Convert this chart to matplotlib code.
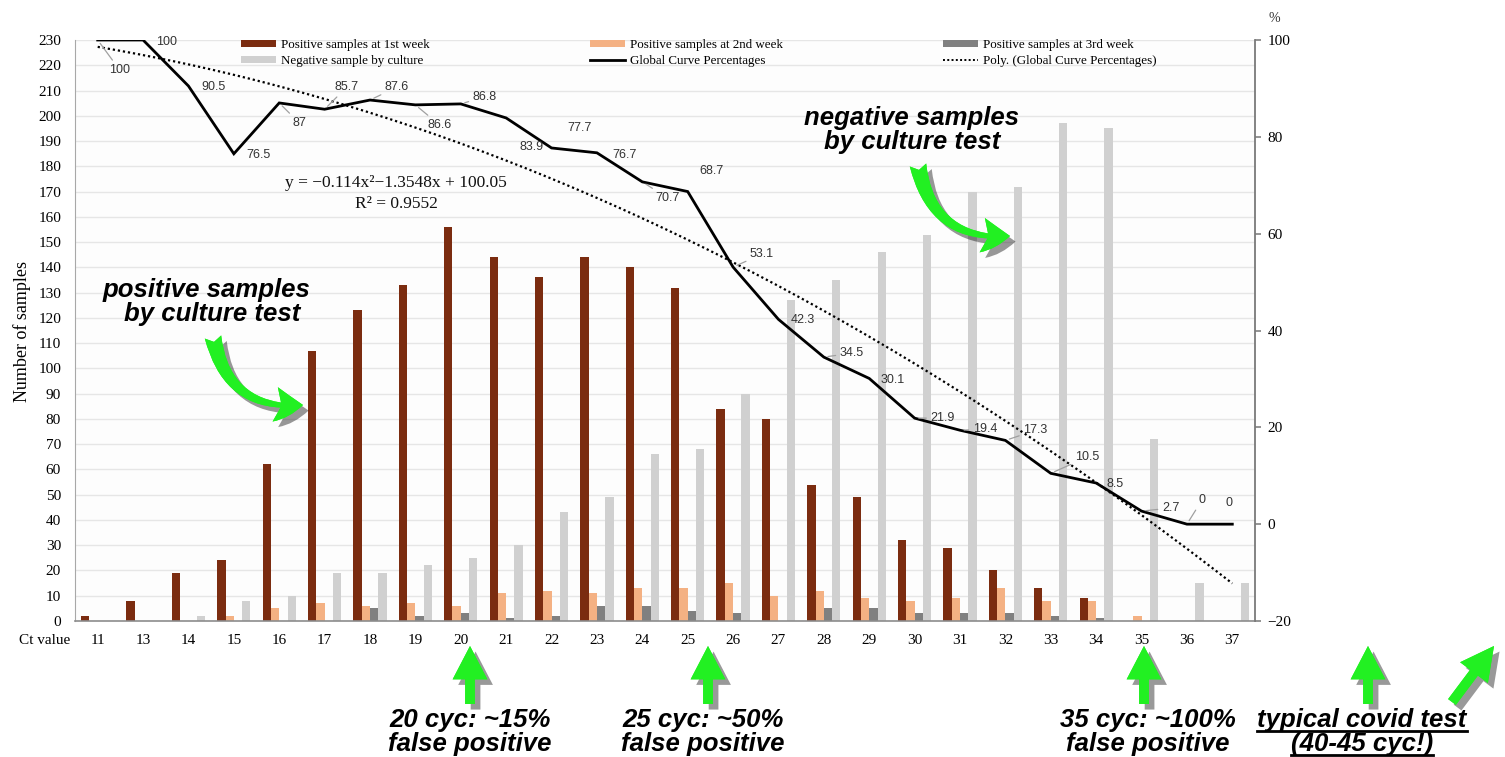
import numpy as np
import matplotlib
matplotlib.use("Agg")
import matplotlib.pyplot as plt
from matplotlib.patches import FancyArrowPatch, Patch
from matplotlib.lines import Line2D
import matplotlib.patheffects as pe

# ---- data -------------------------------------------------------------
ct_values = ["11", "13", "14", "15", "16", "17", "18", "19", "20", "21", "22",
             "23", "24", "25", "26", "27", "28", "29", "30", "31", "32", "33",
             "34", "35", "36", "37"]
pos_week1 = [2, 8, 19, 24, 62, 107, 123, 133, 156, 144, 136, 144, 140, 132,
             84, 80, 54, 49, 32, 29, 20, 13, 9, 0, 0, 0]
pos_week2 = [0, 0, 0, 2, 5, 7, 6, 7, 6, 11, 12, 11, 13, 13, 15, 10, 12, 9, 8,
             9, 13, 8, 8, 2, 0, 0]
pos_week3 = [0, 0, 0, 0, 0, 0, 5, 2, 3, 1, 2, 6, 6, 4, 3, 0, 5, 5, 3, 3, 3, 2,
             1, 0, 0, 0]
negative = [0, 0, 2, 8, 10, 19, 19, 22, 25, 30, 43, 49, 66, 68, 90, 127, 135,
            146, 153, 170, 172, 197, 195, 72, 15, 15]
global_pct = [100, 100, 90.5, 76.5, 87, 85.7, 87.6, 86.6, 86.8, 83.9, 77.7,
              76.7, 70.7, 68.7, 53.1, 42.3, 34.5, 30.1, 21.9, 19.4, 17.3, 10.5,
              8.5, 2.7, 0, 0]
pct_labels = ["100", "100", "90.5", "76.5", "87", "85.7", "87.6", "86.6",
              "86.8", "83.9", "77.7", "76.7", "70.7", "68.7", "53.1", "42.3",
              "34.5", "30.1", "21.9", "19.4", "17.3", "10.5", "8.5", "2.7",
              "0", "0"]
poly_coef = [-0.114, -1.3548, 100.05]
r_squared = 0.9552
left_ticks = list(range(0, 231, 10))
right_ticks = [-20, 0, 20, 40, 60, 80, 100]

# ---- label placement (pixel offsets from each point) and leader lines --
label_offsets = [(22, -30), (23, -2), (25, -1), (25, -1), (20, -20), (22, 22),
                 (27, 13), (24, -20), (24, 7), (25, -29), (28, 20), (28, -2),
                 (25, -16), (24, 21), (29, 13), (24, -1), (28, 4), (23, -2),
                 (28, 0), (25, 1), (30, 10), (36, 16), (19, -1), (29, 3),
                 (15, 24), (-3, 21)]
leader = {0, 4, 5, 6, 7, 8, 12, 14, 16, 18, 19, 20, 21, 23, 24}

# ---- colours -----------------------------------------------------------
c_week1 = "#7B2C10"
c_week2 = "#F4B183"
c_week3 = "#808080"
c_neg = "#D0D0D0"
green = "#22F022"

SERIF = "Liberation Serif"
SANS = "Liberation Sans"

W, H = 1505, 757
fig = plt.figure(figsize=(W / 100, H / 100), dpi=100)
fig.patch.set_facecolor("white")


def fp(x, y):
    """pixel position (from top-left) -> figure fraction"""
    return (x / W, 1 - y / H)


ax = fig.add_axes([75 / W, 1 - 621 / H, (1255 - 75) / W, (621 - 40) / H])
ax.set_facecolor("#FDFDFD")

x = np.arange(len(ct_values))
bw = 0.183
ax.bar(x - 1.5 * bw, pos_week1, bw, color=c_week1, zorder=2)
ax.bar(x - 0.5 * bw, pos_week2, bw, color=c_week2, zorder=2)
ax.bar(x + 0.5 * bw, pos_week3, bw, color=c_week3, zorder=2)
ax.bar(x + 1.5 * bw, negative, bw, color=c_neg, zorder=2)

ax.set_xlim(-0.5, len(ct_values) - 0.5)
ax.set_ylim(0, 230)
ax.set_yticks(left_ticks)
ax.set_xticks(x)
ax.set_xticklabels(ct_values)
ax.yaxis.grid(True, color="#E6E6E6", lw=1)
ax.set_axisbelow(True)
ax.tick_params(axis="y", length=0, pad=10, labelsize=11, labelfontfamily=SERIF)
ax.tick_params(axis="x", length=0, pad=9, labelsize=11, labelfontfamily=SERIF)
for s in ("top", "right"):
    ax.spines[s].set_visible(False)
ax.spines["left"].set_color("#A8A8A8")
ax.spines["bottom"].set_color("#8C8C8C")
ax.spines["bottom"].set_linewidth(1.2)

ax2 = ax.twinx()
ax2.set_ylim(-20, 100)
ax2.set_yticks(right_ticks)
ax2.set_yticklabels([str(t).replace("-", "\u2212") for t in right_ticks])
ax2.tick_params(axis="y", direction="out", length=4, width=1.1, color="#777777",
                pad=5, labelsize=11, labelfontfamily=SERIF)
for s in ("top", "left", "bottom"):
    ax2.spines[s].set_visible(False)
ax2.spines["right"].set_color("#7A7A7A")
ax2.spines["right"].set_linewidth(1.3)

# global curve and its quadratic trend line
ax2.plot(x, global_pct, color="black", lw=2.0, zorder=4, solid_joinstyle="miter")
xs = np.linspace(0, len(ct_values) - 1, 300)
ax2.plot(xs, np.polyval(poly_coef, xs + 1), color="black", lw=1.6,
         ls=(0, (1, 1.3)), zorder=3)

for i, (val, txt) in enumerate(zip(global_pct, pct_labels)):
    kw = {}
    if i in leader:
        kw["arrowprops"] = dict(arrowstyle="-", color="#A0A0A0", lw=0.9,
                                shrinkA=1, shrinkB=3)
    ax2.annotate(txt, (i, val), xytext=label_offsets[i],
                 textcoords="offset pixels", ha="center", va="center",
                 fontsize=9, family=SANS, color="#333333", zorder=6, **kw)

# trend equation
ax2.text(0.272, 0.754, "y = \u22120.114x\u00b2\u22121.3548x + 100.05",
         transform=ax2.transAxes, ha="center", va="center", fontsize=12.5,
         family=SERIF, color="#111111")
ax2.text(0.272, 0.718, "R\u00b2 = %.4f" % r_squared, transform=ax2.transAxes,
         ha="center", va="center", fontsize=12.5, family=SERIF, color="#111111")

# legend
handles = [Patch(fc=c_week1), Patch(fc=c_neg), Patch(fc=c_week2),
           Line2D([], [], color="black", lw=2), Patch(fc=c_week3),
           Line2D([], [], color="black", lw=1.4, ls=(0, (1, 1.2)))]
labels = ["Positive samples at 1st week", "Negative sample by culture",
          "Positive samples at 2nd week", "Global Curve Percentages",
          "Positive samples at 3rd week", "Poly. (Global Curve Percentages)"]
x0, y0 = fp(241, 67)
x1, y1 = fp(1157, 36)
leg = ax2.legend(handles, labels, ncol=3, mode="expand",
                 bbox_to_anchor=(x0, y0, x1 - x0, y1 - y0),
                 bbox_transform=fig.transFigure, loc="lower left",
                 frameon=False, prop={"family": SERIF, "size": 9.4},
                 handlelength=2.7, handleheight=0.5, handletextpad=0.4,
                 borderpad=0, borderaxespad=0, labelspacing=0.3)
leg.set_zorder(7)

# axis captions
fig.text(*fp(22, 332), "Number of samples", rotation=90, ha="center",
         va="center", fontsize=13, family=SERIF)
fig.text(*fp(45, 641), "Ct value", ha="center", va="center", fontsize=11,
         family=SERIF)
fig.text(*fp(1274, 18), "%", ha="center", va="center", fontsize=10,
         family=SERIF, color="#333333")

# callouts
callout = dict(ha="center", va="center", fontsize=18.5, family=SANS,
               weight="bold", style="italic", color="black")
fig.text(*fp(207, 290), "positive samples", **callout)
fig.text(*fp(212, 314), "by culture test", **callout)
fig.text(*fp(912, 118), "negative samples", **callout)
fig.text(*fp(912, 142), "by culture test", **callout)

bottom_notes = [(470, "20 cyc: ~15%", "false positive"),
                (703, "25 cyc: ~50%", "false positive"),
                (1148, "35 cyc: ~100%", "false positive")]
for cx, l1, l2 in bottom_notes:
    fig.text(*fp(cx, 720), l1, **callout)
    fig.text(*fp(cx, 744), l2, **callout)

u1 = fig.text(*fp(1362, 720), "typical covid test", **callout)
u2 = fig.text(*fp(1362, 744), "(40-45 cyc!)", **callout)

shadow = [pe.withSimplePatchShadow(offset=(4, -4), shadow_rgbFace="black",
                                   alpha=0.4), pe.Normal()]


def arrow(p0, p1, style, rad=0.0):
    a = FancyArrowPatch(fp(*p0), fp(*p1), transform=fig.transFigure,
                        arrowstyle=style, connectionstyle="arc3,rad=%g" % rad,
                        mutation_scale=1, color=green, lw=0, shrinkA=0,
                        shrinkB=0, zorder=8)
    a.set_path_effects(shadow)
    fig.add_artist(a)


straight = "simple,head_length=24,head_width=25,tail_width=7"
curved = "fancy,head_length=20,head_width=25,tail_width=12"
arrow((213, 337), (303, 405), curved, rad=0.45)
arrow((918, 165), (1010, 236), curved, rad=0.45)
for cx in (470, 708, 1144, 1368):
    arrow((cx, 704), (cx, 646), straight)
arrow((1452, 702), (1494, 646), straight)

# underline the last note
fig.canvas.draw()
r = fig.canvas.get_renderer()
for t in (u1, u2):
    bb = t.get_window_extent(r)
    fig.add_artist(Line2D([bb.x0 / W, bb.x1 / W],
                          [(bb.y0 + 1) / H, (bb.y0 + 1) / H],
                          transform=fig.transFigure, color="black", lw=2))

fig.savefig("out.png", dpi=100)
